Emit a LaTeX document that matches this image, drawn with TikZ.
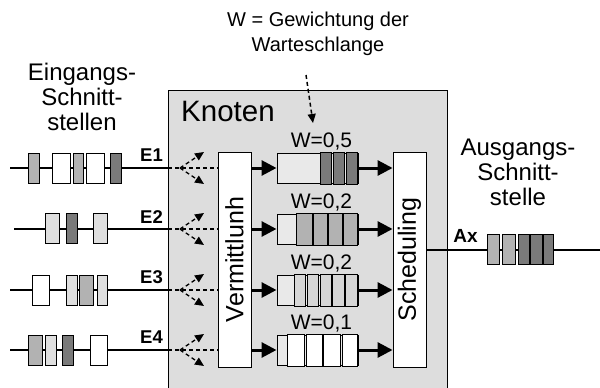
\documentclass[tikz,border=0pt]{standalone}
\usepackage{fontspec}
\setmainfont{Liberation Sans}
\usetikzlibrary{
    arrows.meta,
    positioning,
    calc
}
\definecolor{knotengray}{HTML}{DDDDDD}
\definecolor{quefill}{HTML}{E9E9E9}
\definecolor{pktlight}{HTML}{DFDFDF}
\definecolor{pktpale}{HTML}{D6D6D6}
\definecolor{pktmid}{HTML}{B2B2B2}
\definecolor{pktdark}{HTML}{7A7A7A}

\begin{document}
\begin{tikzpicture}[
    x=1pt,
    y=-1pt,
    every node/.style={
        font=\fontsize{24pt}{25pt}\selectfont
    },
    wire/.style={line width=2.6pt},
    splitline/.style={dashed, dash pattern=on 4pt off 3pt, line width=1.3pt},
    fork/.style={splitline, -{Triangle[length=9pt,width=8pt]}},
    feed/.style={line width=3pt, -{Triangle[length=15pt,width=15pt]}},
    pkt/.style={draw=black, line width=1pt},
    block/.style={
        draw=black,
        fill=white,
        line width=0.9pt,
        minimum width=33pt,
        minimum height=215pt,
        inner sep=0pt
    },
    queue/.style={
        draw=black,
        fill=quefill,
        line width=1pt,
        minimum width=81pt,
        minimum height=30pt,
        inner sep=0pt
    },
    wlabel/.style={font=\fontsize{21pt}{21pt}\selectfont, inner sep=0pt},
    portlabel/.style={font=\bfseries\fontsize{18.5pt}{18.5pt}\selectfont, inner sep=0pt},
    heading/.style={align=center, inner sep=0pt}
]

    \useasboundingbox (0,0) rectangle (600,388);

    % -------------------------------------------------------
    % Knoten
    % -------------------------------------------------------
    \node[
        draw=black,
        fill=knotengray,
        line width=0.9pt,
        minimum width=279pt,
        minimum height=312pt,
        inner sep=0pt,
        anchor=north west
    ] (knoten) at (168,90) {};

    \node[
        anchor=west,
        inner sep=0pt,
        font=\fontsize{29.5pt}{29.5pt}\selectfont
    ] (knotenlabel) at (181,111) {Knoten};

    % -------------------------------------------------------
    % Headings
    % -------------------------------------------------------
    \node[heading] (eingang) at (82,97)
        {Eingangs-\\Schnitt-\\stellen};

    \node[heading] (ausgang) at (518,172)
        {Ausgangs-\\Schnitt-\\stelle};

    \node[
        heading,
        font=\fontsize{20pt}{25pt}\selectfont
    ] (wnote) at (318,34)
        {W = Gewichtung der\\Warteschlange};

    \coordinate (notefrom) at (306,75);
    \coordinate (noteto) at (313,123);
    \draw[splitline, line width=1.5pt, -{Triangle[length=9pt,width=8pt]}]
        (notefrom) -- (noteto);

    % -------------------------------------------------------
    % Vermittlunh and Scheduling
    % -------------------------------------------------------
    \node[block] (verm) at (234.5,259.5) {};
    \node[rotate=90, inner sep=0pt, font=\fontsize{25pt}{25pt}\selectfont]
        (vermtext) at (verm) {Vermittlunh};

    \node[block] (sched) at (409.5,259.5) {};
    \node[rotate=90, inner sep=0pt, font=\fontsize{25pt}{25pt}\selectfont]
        (schedtext) at (sched) {Scheduling};

    % -------------------------------------------------------
    % Warteschlangen
    % -------------------------------------------------------
    \node[queue] (q1) at (317.5,168) {};
    \node[queue] (q2) at (317.5,229) {};
    \node[queue] (q3) at (317.5,290) {};
    \node[queue] (q4) at (317.5,350) {};

    \foreach \a/\b in {320/331, 333/344, 346/357}
        \filldraw[pkt, fill=pktdark] (\a,152) rectangle (\b,184);
    \foreach \a/\b in {296/312, 313/327, 328/342, 343/357}
        \filldraw[pkt, fill=pktmid] (\a,213) rectangle (\b,245);
    \foreach \a/\b in {294/305, 307/318, 320/331, 332/344, 345/357}
        \filldraw[pkt, fill=pktpale] (\a,274) rectangle (\b,306);
    \foreach \a/\b in {287/304, 306/322, 323/340, 342/357}
        \filldraw[pkt, fill=white] (\a,334) rectangle (\b,366);

    \node[wlabel, above=2pt of q1, xshift=4pt] (w1) {W=0,5};
    \node[wlabel, above=2pt of q2, xshift=4pt] (w2) {W=0,2};
    \node[wlabel, above=2pt of q3, xshift=4pt] (w3) {W=0,2};
    \node[wlabel, above=2pt of q4, xshift=4pt] (w4) {W=0,1};

    \foreach \q in {q1, q2, q3, q4} {
        \draw[feed] (\q -| verm.east) -- (\q.west);
        \draw[feed] (\q.east) -- (\q -| sched.west);
    }

    % -------------------------------------------------------
    % Eingangs-Schnittstellen
    % -------------------------------------------------------
    \coordinate (in1) at (10,168);
    \coordinate (in2) at (14,229);
    \coordinate (in3) at (10,290);
    \coordinate (in4) at (10,350);

    \foreach \i in {1,2,3,4} {
        \draw[wire] (in\i) -- (in\i -| knoten.west);
        \draw[splitline] (in\i -| knoten.west) -- (in\i -| verm.west);
        \coordinate (fork\i) at ($(in\i -| knoten.west)+(12,0)$);
        \draw[fork] (fork\i) -- ++(24,-16);
        \draw[fork] (fork\i) -- ++(24,16);
    }

    \foreach \a/\b/\c in {28/39/pktmid, 52/70/white, 73/83/pktmid,
                          86/104/white, 110/121/pktdark}
        \filldraw[pkt, fill=\c] (\a,153) rectangle (\b,183);
    \foreach \a/\b/\c in {45/59/pktlight, 66/77/pktdark, 93/107/pktlight}
        \filldraw[pkt, fill=\c] (\a,213) rectangle (\b,243);
    \foreach \a/\b/\c in {32/49/white, 66/77/pktlight, 79/93/pktmid,
                          97/107/pktlight}
        \filldraw[pkt, fill=\c] (\a,275) rectangle (\b,305);
    \foreach \a/\b/\c in {28/42/pktmid, 45/56/pktlight, 62/73/pktdark,
                          90/107/white}
        \filldraw[pkt, fill=\c] (\a,335) rectangle (\b,365);

    \node[portlabel] (e1) at (151.5,155) {E1};
    \node[portlabel] (e2) at (151.5,217) {E2};
    \node[portlabel] (e3) at (151.5,277) {E3};
    \node[portlabel] (e4) at (151.5,337) {E4};

    % -------------------------------------------------------
    % Ausgangs-Schnittstelle
    % -------------------------------------------------------
    \coordinate (out) at (600,250);
    \draw[wire] (sched.east |- out) -- (out);

    \foreach \a/\b/\c in {487/499/pktmid, 502/515/pktmid, 518/529/pktdark,
                          530/542/pktdark, 543/553/pktdark}
        \filldraw[pkt, fill=\c] (\a,234) rectangle (\b,264);

    \node[portlabel, font=\bfseries\fontsize{19pt}{19pt}\selectfont]
        (ax) at (465.5,236) {Ax};

\end{tikzpicture}
\end{document}
